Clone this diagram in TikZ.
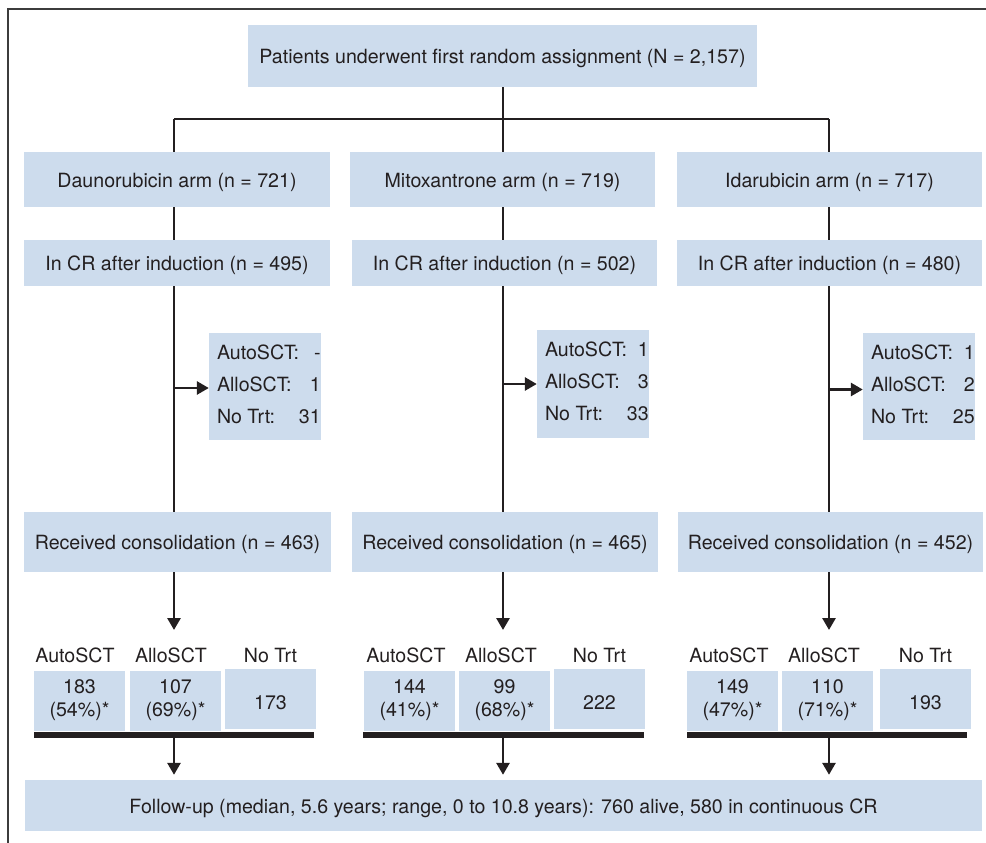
\documentclass[tikz,border=0pt]{standalone}
\usepackage{fontspec}
\setmainfont{TeX Gyre Heros}
\usetikzlibrary{arrows.meta}
\definecolor{boxblue}{RGB}{205,220,237}
\definecolor{ink}{RGB}{35,31,32}
\definecolor{framegray}{RGB}{60,60,60}
\newcommand{\mainsize}{\fontsize{19.6}{23}\selectfont}
\begin{document}
\begin{tikzpicture}[x=1pt,y=-1pt,
  box/.style={fill=boxblue, text=ink, inner sep=0pt, align=center, font=\mainsize},
  onebox/.style={box, text height=17.5pt, text depth=2pt},
  numbox/.style={box, text height=20.6pt, text depth=0pt},
  conn/.style={draw=ink, line width=2.8pt},
  arr/.style={conn, -{Triangle[length=12pt,width=13pt]}},
  barline/.style={draw=ink, line width=6pt},
  lbl/.style={text=ink, font=\mainsize, inner sep=0pt},
  frameline/.style={draw=framegray, line width=2pt}]
\useasboundingbox (0,0) rectangle (986,843);
% frame
\coordinate (fr1) at (8,843);
\coordinate (fr2) at (8,9);
\coordinate (fr3) at (986,9);
\draw[frameline] (fr1) -- (fr2) -- (fr3);

% top
\node[onebox, minimum width=509pt, minimum height=62pt] (top) at (502.5,56) {Patients underwent first random assignment (N = 2,157)};
% arms
\node[onebox, minimum width=306pt, minimum height=55pt] (d1) at (177,179.5) {Daunorubicin arm (n = 721)};
\node[onebox, minimum width=305pt, minimum height=55pt] (d2) at (502.5,179.5) {Mitoxantrone arm (n = 719)};
\node[onebox, minimum width=305pt, minimum height=55pt] (d3) at (829.5,179.5) {Idarubicin arm (n = 717)};
% CR
\node[onebox, minimum width=306pt, minimum height=46pt] (c1) at (177,263) {In CR after induction (n = 495)};
\node[onebox, minimum width=305pt, minimum height=46pt] (c2) at (504.5,263) {In CR after induction (n = 502)};
\node[onebox, minimum width=305pt, minimum height=46pt] (c3) at (829.5,263) {In CR after induction (n = 480)};
% side boxes
\node[box, minimum width=112pt, minimum height=107pt] (s1) at (265,386.5) {\begin{tabular*}{96pt}{@{}l@{\extracolsep{\fill}}r@{}}AutoSCT: & -\\[9pt] AlloSCT: & 1\\[9pt] No Trt: & 31\end{tabular*}};
\node[box, minimum width=112pt, minimum height=108pt] (s2) at (593,384) {\begin{tabular*}{96pt}{@{}l@{\extracolsep{\fill}}r@{}}AutoSCT: & 1\\[9pt] AlloSCT: & 3\\[9pt] No Trt: & 33\end{tabular*}};
\node[box, minimum width=112pt, minimum height=107pt] (s3) at (919,386.5) {\begin{tabular*}{96pt}{@{}l@{\extracolsep{\fill}}r@{}}AutoSCT: & 1\\[9pt] AlloSCT: & 2\\[9pt] No Trt: & 25\end{tabular*}};
% consolidation
\node[onebox, minimum width=307pt, minimum height=60pt] (r1) at (177.5,542) {Received consolidation (n = 463)};
\node[onebox, minimum width=306pt, minimum height=60pt] (r2) at (505,542) {Received consolidation (n = 465)};
\node[onebox, minimum width=305pt, minimum height=60pt] (r3) at (830.5,542) {Received consolidation (n = 452)};
% labels
\node[lbl] (la1) at (75,655) {AutoSCT};
\node[lbl] (lb1) at (171,655) {AlloSCT};
\node[lbl] (lc1) at (270.5,655) {No Trt};
\node[lbl] (la2) at (406,655) {AutoSCT};
\node[lbl] (lb2) at (501,655) {AlloSCT};
\node[lbl] (lc2) at (599.5,655) {No Trt};
\node[lbl] (la3) at (729,655) {AutoSCT};
\node[lbl] (lb3) at (824,655) {AlloSCT};
\node[lbl] (lc3) at (925.5,655) {No Trt};
% small boxes
\node[box, minimum width=91pt, minimum height=60pt] (n1a) at (79.5,700.5) {183\\(54\%)*};
\node[box, minimum width=91pt, minimum height=60pt] (n1b) at (175.5,700.5) {107\\(69\%)*};
\node[numbox, minimum width=91pt, minimum height=60pt] (n1c) at (270.5,699) {173};
\node[box, minimum width=91pt, minimum height=60pt] (n2a) at (409.5,700.5) {144\\(41\%)*};
\node[box, minimum width=91pt, minimum height=60pt] (n2b) at (504.5,700.5) {99\\(68\%)*};
\node[numbox, minimum width=91pt, minimum height=60pt] (n2c) at (599.5,699) {222};
\node[box, minimum width=91pt, minimum height=60pt] (n3a) at (732.5,700.5) {149\\(47\%)*};
\node[box, minimum width=91pt, minimum height=60pt] (n3b) at (827.5,700.5) {110\\(71\%)*};
\node[numbox, minimum width=91pt, minimum height=60pt] (n3c) at (925.5,699) {193};
% follow-up
\node[onebox, minimum width=957pt, minimum height=51pt] (fu) at (503.5,805.5) {Follow-up (median, 5.6 years; range, 0 to 10.8 years): 760 alive, 580 in continuous CR};

% junction coordinates
\coordinate (hL) at (174,119);
\coordinate (hM) at (503,119);
\coordinate (hR) at (829,119);
\coordinate (aL) at (174,630);
\coordinate (aM) at (503,630);
\coordinate (aR) at (829,630);
\coordinate (bL1) at (34,735);
\coordinate (bL2) at (314,735);
\coordinate (bM1) at (363,735);
\coordinate (bM2) at (644,735);
\coordinate (bR1) at (687,735);
\coordinate (bR2) at (967,735);

% connectors
\draw[conn] (top.south -| hM) -- (hM);
\draw[conn] (hL) -- (hR);
\draw[conn] (hL) -- (d1.north -| hL);
\draw[conn] (hM) -- (d2.north -| hM);
\draw[conn] (hR) -- (d3.north -| hR);
\draw[conn] (d1.south -| hL) -- (c1.north -| hL);
\draw[conn] (d2.south -| hM) -- (c2.north -| hM);
\draw[conn] (d3.south -| hR) -- (c3.north -| hR);
\draw[conn] (c1.south -| hL) -- (r1.north -| hL);
\draw[conn] (c2.south -| hM) -- (r2.north -| hM);
\draw[conn] (c3.south -| hR) -- (r3.north -| hR);
\draw[arr] ([yshift=-1.5pt]s1.west -| hL) -- ([yshift=-1.5pt]s1.west);
\draw[arr] (s2.west -| hM) -- (s2.west);
\draw[arr] ([yshift=-3pt]s3.west -| hR) -- ([yshift=-3pt]s3.west);
\draw[arr] (r1.south -| hL) -- (aL);
\draw[arr] (r2.south -| hM) -- (aM);
\draw[arr] (r3.south -| hR) -- (aR);
\draw[barline] (bL1) -- (bL2);
\draw[barline] (bM1) -- (bM2);
\draw[barline] (bR1) -- (bR2);
\draw[arr, shorten >=5pt] (bL1 -| hL) -- (fu.north -| hL);
\draw[arr, shorten >=5pt] (bM1 -| hM) -- (fu.north -| hM);
\draw[arr, shorten >=5pt] (bR1 -| hR) -- (fu.north -| hR);
\end{tikzpicture}
\end{document}
